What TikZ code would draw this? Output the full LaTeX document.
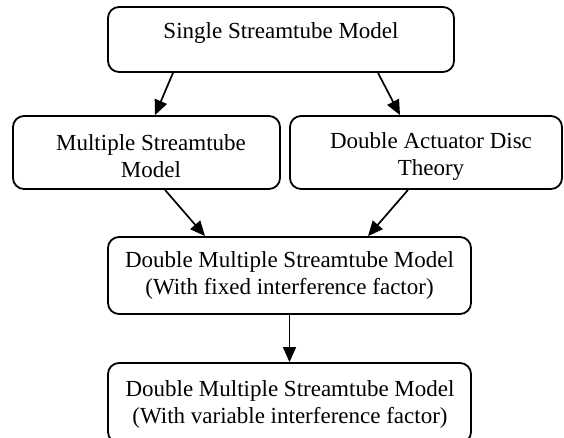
\documentclass[tikz,border=0pt]{standalone}
\usepackage{fontspec}
\setmainfont{Liberation Serif}
\usetikzlibrary{arrows.meta}
\begin{document}
\begin{tikzpicture}[x=1pt,y=-1pt,
  box/.style={draw, line width=1.8pt, rounded corners=11pt, align=center,
    inner sep=0pt, font=\fontsize{23}{27}\selectfont},
  txt/.style={align=center, inner sep=0pt, font=\fontsize{23}{27}\selectfont},
  arr/.style={line width=1.7pt, -{Triangle[length=15pt,width=13pt]}}]
\useasboundingbox (0,0) rectangle (564,437);
\node[box, minimum width=346pt, minimum height=65pt] (b1) at (281,39.5) {};
\node[txt] (t1) at (281,33) {Single Streamtube Model};
\node[box, minimum width=267pt, minimum height=73pt] (b2) at (146.5,152.5) {};
\node[txt] (t2) at (151,156) {Multiple Streamtube\\Model};
\node[box, minimum width=272pt, minimum height=73pt] (b3) at (426,152.5) {};
\node[txt] (t3) at (431,156) {Double Actuator Disc\\Theory};
\node[box, minimum width=363pt, minimum height=77pt] (b4) at (289.5,275.5) {Double Multiple Streamtube Model\\(With fixed interference factor)};
\node[box, minimum width=363pt, minimum height=80pt] (b5) at (289.5,403) {};
\node[txt] (t5) at (290,404) {Double Multiple Streamtube Model\\(With variable interference factor)};
\draw[arr] ([xshift=-108pt]b1.south) -- ([xshift=8.5pt]b2.north);
\draw[arr] ([xshift=97pt]b1.south) -- ([xshift=-26pt]b3.north);
\draw[arr] ([xshift=18.5pt]b2.south) -- ([xshift=-84.5pt]b4.north);
\draw[arr] ([xshift=-18pt]b3.south) -- ([xshift=78.5pt]b4.north);
\draw[arr] (b4.south) -- (b5.north);
\end{tikzpicture}
\end{document}
